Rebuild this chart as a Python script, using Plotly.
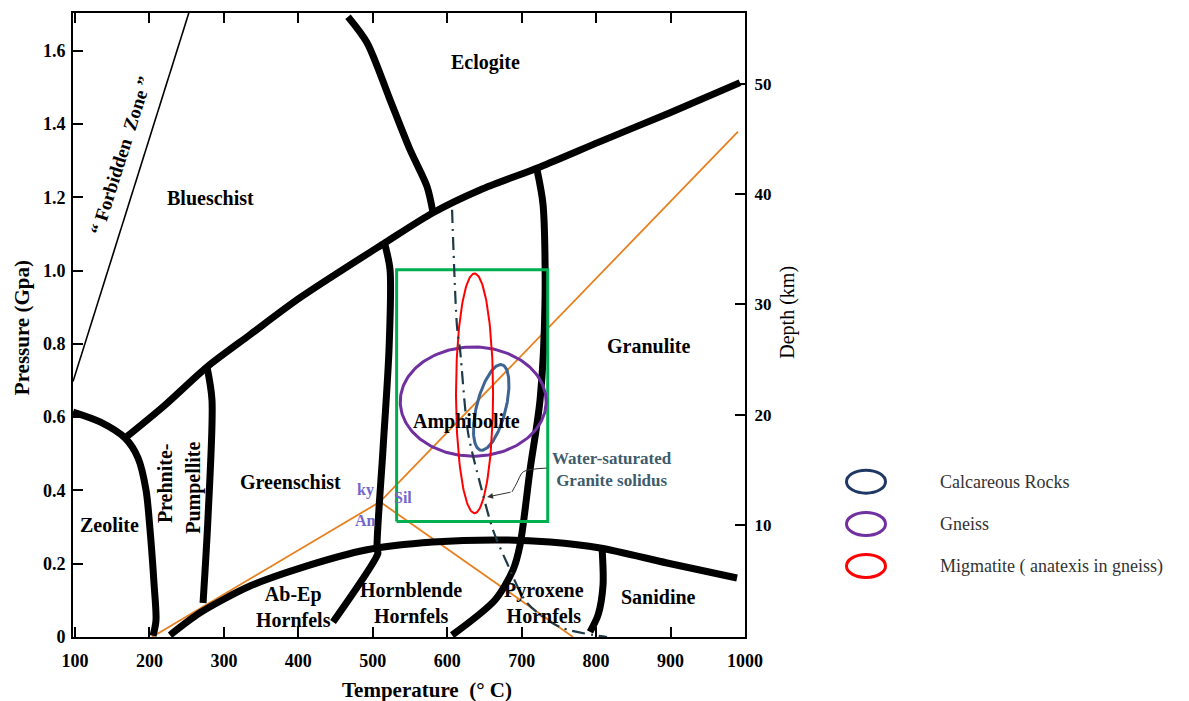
import numpy as np
import plotly.graph_objects as go

# ---------------- data (Temperature in deg C, Pressure in GPa) ----------------
forbidden_T = [97.3, 253.0]
forbidden_P = [0.697, 1.704]

zeolite_T = [97.3, 133.6, 167.2, 184.6, 195.4, 200.8, 206.1, 208.8, 204.8]
zeolite_P = [0.614, 0.587, 0.543, 0.489, 0.401, 0.292, 0.147, 0.046, 0.003]

blueschist_T = [167.2, 220.9, 277.3, 335.1, 402.3, 516.4, 580.9, 644.0, 724.7, 805.3, 899.3, 993.3]
blueschist_P = [0.543, 0.633, 0.737, 0.825, 0.926, 1.076, 1.158, 1.220, 1.283, 1.352, 1.431, 1.513]

prehnite_T = [277.3, 284.0, 278.7, 272.0]
prehnite_P = [0.737, 0.647, 0.328, 0.093]

eclogite_T = [466.7, 492.3, 523.2, 550.0, 572.9, 580.9]
eclogite_P = [1.693, 1.622, 1.466, 1.330, 1.229, 1.158]

amph_left_T = [516.4, 523.2, 521.8, 513.7, 505.7, 506.9, 446.6]
amph_left_P = [1.070, 1.002, 0.784, 0.511, 0.238, 0.229, 0.041]

amph_right_T = [720.6, 728.7, 731.4, 724.7, 711.2, 697.8, 688.4, 664.2, 606.5]
amph_right_P = [1.275, 1.180, 0.920, 0.647, 0.456, 0.251, 0.183, 0.101, 0.005]

contact_T = [227.6, 267.9, 335.1, 402.3, 492.3, 580.9, 671.0, 738.1, 805.3, 895.3, 989.3]
contact_P = [0.005, 0.066, 0.139, 0.188, 0.238, 0.259, 0.265, 0.259, 0.243, 0.202, 0.161]

sanidine_T = [808.0, 809.3, 802.6, 791.8]
sanidine_P = [0.243, 0.142, 0.060, 0.014]

# Al2SiO5 triple point and its three boundaries
triple_T, triple_P = 509.7, 0.369
ky_and_end = (203.4, 0.0)
ky_sil_end = (990.6, 1.379)
and_sil_end = (769.0, 0.0)

solidus_T = [606.5, 613.2, 617.2, 628.0, 644.0, 661.5, 680.3, 707.2, 751.5, 814.7]
solidus_P = [1.166, 0.846, 0.784, 0.557, 0.420, 0.292, 0.202, 0.093, 0.027, 0.0]

arrow_T = [733.7, 702.2, 693.4, 687.0]
arrow_P = [0.461, 0.451, 0.420, 0.396]
arrow_tip = (653.5, 0.382)

box_T = [532.0, 735.0]
box_P = [0.315, 1.002]

# ellipses: centre, semi-axis vectors (T, P)
calc_center, calc_major, calc_minor = (659.1, 0.6266), (14.4, 0.1166), (19.0, -0.0095)
gneiss_center, gneiss_radius = (634.9, 0.6425), (98.0, 0.149)
migm_center, migm_radius = (636.7, 0.665), (24.9, 0.327)

x_ticks = list(range(100, 1001, 100))
p_ticks = [0, 0.2, 0.4, 0.6, 0.8, 1.0, 1.2, 1.4, 1.6]
p_ticktext = ["0", "0.2", "0.4", "0.6", "0.8", "1.0", "1.2", "1.4", "1.6"]
depth_ticks = [10, 20, 30, 40, 50]

facies_labels = [
    ("Eclogite", 651.5, 1.567), ("Blueschist", 282.3, 1.199), ("Granulite", 869.7, 0.795),
    ("Amphibolite", 626.2, 0.588), ("Greenschist", 389.9, 0.424), ("Zeolite", 145.7, 0.306),
    ("Ab-Ep<br>Hornfels", 393.0, 0.081), ("Hornblende<br>Hornfels", 551.4, 0.093),
    ("Pyroxene<br>Hornfels", 729.4, 0.093), ("Sanidine", 884.2, 0.108),
]
rotated_labels = [("Prehnite-", 220.9, 0.420), ("Pumpellite", 258.9, 0.408)]
al_labels = [("ky", 489.6, 0.401), ("Sil", 540.6, 0.381), ("An", 489.6, 0.319)]
legend_names = ["Calcareous Rocks", "Gneiss", "Migmatite ( anatexis in gneiss)"]
legend_colors = ["#1F3864", "#7030A0", "#FF0000"]

# ---------------- figure ----------------
FONT = "Liberation Serif"
BLACK_W = 7
fig = go.Figure()


def line(T, P, color="black", width=BLACK_W, dash="solid", shape="spline"):
    fig.add_trace(go.Scatter(x=T, y=P, mode="lines", hoverinfo="skip",
                             line=dict(color=color, width=width, dash=dash, shape=shape,
                                       smoothing=0.8)))


def ellipse(c, a, b, color, width):
    t = np.linspace(0, 2 * np.pi, 181)
    T = c[0] + a[0] * np.cos(t) + b[0] * np.sin(t)
    P = c[1] + a[1] * np.cos(t) + b[1] * np.sin(t)
    fig.add_trace(go.Scatter(x=T, y=P, mode="lines", hoverinfo="skip",
                             line=dict(color=color, width=width)))


# orange Al2SiO5 lines
ORANGE = "#E8801F"
line([ky_and_end[0], triple_T, ky_sil_end[0]], [ky_and_end[1], triple_P, ky_sil_end[1]],
     color=ORANGE, width=1.8, shape="linear")
line([triple_T, and_sil_end[0]], [triple_P, and_sil_end[1]], color=ORANGE, width=1.8, shape="linear")

# forbidden zone
line(forbidden_T, forbidden_P, width=1.6, shape="linear")

# facies boundaries
for T, P in [(zeolite_T, zeolite_P), (blueschist_T, blueschist_P), (prehnite_T, prehnite_P),
             (eclogite_T, eclogite_P), (amph_left_T, amph_left_P), (amph_right_T, amph_right_P),
             (contact_T, contact_P), (sanidine_T, sanidine_P)]:
    line(T, P)

# green study box
line([box_T[0], box_T[1], box_T[1], box_T[0], box_T[0]],
     [box_P[0], box_P[0], box_P[1], box_P[1], box_P[0]], color="#00B050", width=3, shape="linear")

# ellipses
ellipse(gneiss_center, (gneiss_radius[0], 0), (0, gneiss_radius[1]), "#7030A0", 3)
ellipse(calc_center, calc_major, calc_minor, "#3E6491", 3)
ellipse(migm_center, (migm_radius[0], 0), (0, migm_radius[1]), "#FF0000", 2)

# solidus
line(solidus_T, solidus_P, color="#1E3A46", width=2.2, dash="13px,6px,2px,6px")

# arrow
line(arrow_T, arrow_P, color="#333333", width=1, shape="spline")
fig.add_annotation(x=arrow_tip[0], y=arrow_tip[1], ax=arrow_T[-1], ay=arrow_P[-1],
                   axref="x", ayref="y", xref="x", yref="y", text="", showarrow=True,
                   arrowhead=2, arrowsize=1.2, arrowwidth=1, arrowcolor="#333333")

# facies labels
for txt, x, y in facies_labels:
    fig.add_annotation(x=x, y=y, text=txt, showarrow=False, xanchor="center", yanchor="middle",
                       font=dict(family=FONT, size=20, color="black", weight="bold"))
for txt, x, y in rotated_labels:
    fig.add_annotation(x=x, y=y, text=txt, showarrow=False, textangle=-90,
                       xanchor="center", yanchor="middle",
                       font=dict(family=FONT, size=20, color="black", weight="bold"))
for txt, x, y in al_labels:
    fig.add_annotation(x=x, y=y, text=txt, showarrow=False, xanchor="center", yanchor="middle",
                       font=dict(family=FONT, size=16, color="#7466CC", weight="bold"))
fig.add_annotation(x=161.8, y=1.313, text="\u201c Forbidden  Zone \u201d", showarrow=False,
                   textangle=-72.5, xanchor="center", yanchor="middle",
                   font=dict(family=FONT, size=19, color="black", weight="bold"))
fig.add_annotation(x=821, y=0.456, text="Water-saturated<br>Granite solidus", showarrow=False,
                   xanchor="center", yanchor="middle",
                   font=dict(family=FONT, size=17, color="#3E5C6B", weight="bold"))

# ---------------- layout geometry ----------------
W, H = 1189, 701
OFF = 8  # page body margin around the figure
L, R, T_, B = 73, 745, 13, 637  # plot-area edges in page pixels


def px(xp, yp):
    return (xp - L) / (R - L), (B - yp) / (B - T_)


# axis titles
x, y = px(426.5, 690)
fig.add_annotation(x=x, y=y, xref="paper", yref="paper", text="Temperature  (\u00b0 C)", showarrow=False,
                   xanchor="center", yanchor="middle",
                   font=dict(family=FONT, size=21, color="black", weight="bold"))
x, y = px(21.7, 327.5)
fig.add_annotation(x=x, y=y, xref="paper", yref="paper", text="Pressure (Gpa)", showarrow=False,
                   textangle=-90, xanchor="center", yanchor="middle",
                   font=dict(family=FONT, size=21, color="black", weight="bold"))
x, y = px(786.7, 312)
fig.add_annotation(x=x, y=y, xref="paper", yref="paper", text="Depth (km)", showarrow=False,
                   textangle=-90, xanchor="center", yanchor="middle",
                   font=dict(family=FONT, size=20, color="black"))

# legend
legend_y = [481.7, 524.0, 566.0]
for name, col, yy in zip(legend_names, legend_colors, legend_y):
    x0, y0 = px(846.5, yy + 11.5)
    x1, y1 = px(885.5, yy - 11.5)
    fig.add_shape(type="circle", xref="paper", yref="paper", x0=x0, y0=y0, x1=x1, y1=y1,
                  line=dict(color=col, width=3))
    tx, ty = px(938, yy)
    fig.add_annotation(x=tx, y=ty, xref="paper", yref="paper", text=name, showarrow=False,
                       xanchor="left", yanchor="middle",
                       font=dict(family=FONT, size=18, color="#333333"))

tickfont = dict(family=FONT, size=18, color="black", weight="bold")
fig.update_layout(
    width=W - OFF, height=H - OFF,
    margin=dict(l=L - OFF, r=W - R, t=T_ - OFF, b=H - B, autoexpand=False, pad=0),
    plot_bgcolor="white", paper_bgcolor="white", showlegend=False,
    font=dict(family=FONT),
    xaxis=dict(range=[97.3, 1000], tickvals=x_ticks, ticks="inside", ticklen=10, tickwidth=2,
               tickcolor="black", showline=True, linecolor="black", linewidth=2, mirror="ticks",
               showgrid=False, zeroline=False, tickfont=tickfont, ticklabelstandoff=6),
    yaxis=dict(range=[0, 1.703], tickvals=p_ticks, ticktext=p_ticktext, ticks="inside", ticklen=10,
               tickwidth=2, tickcolor="black", showline=True, linecolor="black", linewidth=2,
               showgrid=False, zeroline=False, tickfont=tickfont, ticklabelstandoff=2),
    yaxis2=dict(overlaying="y", side="right", range=[-0.13, 56.4], tickvals=depth_ticks,
                ticks="inside", ticklen=10, tickwidth=2, tickcolor="black", showline=True,
                linecolor="black", linewidth=2, showgrid=False, zeroline=False,
                tickfont=dict(family=FONT, size=17, color="black", weight="bold"), ticklabelstandoff=4),
)
# dummy trace to show the depth axis
fig.add_trace(go.Scatter(x=[None], y=[None], yaxis="y2", hoverinfo="skip"))

fig.write_html("out.html")
